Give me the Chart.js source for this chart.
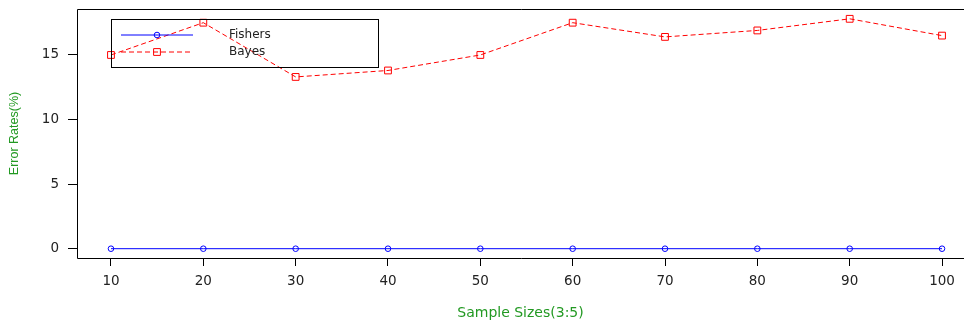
<!DOCTYPE html>
<html>
<head>
<meta charset="utf-8">
<script src="https://cdn.jsdelivr.net/npm/chart.js@4/dist/chart.umd.min.js"></script>
<style>
  html, body { margin: 0; padding: 0; overflow: hidden; background: #fff; }
  #wrap { position: relative; width: 964px; height: 324px; }
</style>
</head>
<body>
<div id="wrap"><canvas id="c"></canvas></div>
<script>
(function () {

    'use strict';

    // data
    var sampleSizes = [10, 20, 30, 40, 50, 60, 70, 80, 90, 100];
    var fishersErr  = [0, 0, 0, 0, 0, 0, 0, 0, 0, 0];
    var bayesErr    = [15.0, 17.5, 13.3, 13.8, 15.0, 17.5, 16.4, 16.9, 17.8, 16.5];
    var xTicks = [10, 20, 30, 40, 50, 60, 70, 80, 90, 100];
    var yTicks = [0, 5, 10, 15];

    var green = '#229922';
    var tickFont = { family: 'DejaVu Sans', size: 13.5 };

    function points(ys) {
        return sampleSizes.map(function (x, i) { return { x: x, y: ys[i] }; });
    }

    //no extra room for tick labels, the plot region is fixed
    function noPad(scale) {
        scale.paddingLeft = 0;
        scale.paddingRight = 0;
        scale.paddingTop = 0;
        scale.paddingBottom = 0;
    }

    //R style box round the plot region (right side is cut off in the original)
    var boxPlugin = {
        id: 'box',
        beforeDatasetsDraw: function (chart) {
            var a = chart.chartArea, ctx = chart.ctx;
            ctx.save();
            ctx.strokeStyle = '#000';
            ctx.lineWidth = 1;
            ctx.beginPath();
            ctx.moveTo(a.right + 1, a.top + 0.5);
            ctx.lineTo(a.left + 0.5, a.top + 0.5);
            ctx.lineTo(a.left + 0.5, a.bottom + 0.5);
            ctx.lineTo(a.right + 1, a.bottom + 0.5);
            ctx.stroke();
            ctx.restore();
        }
    };

    //legend box drawn from the datasets
    var legendPlugin = {
        id: 'rlegend',
        afterDraw: function (chart) {
            var ctx = chart.ctx;
            var a = chart.chartArea;
            var bx = a.left + 34, by = a.top + 10, bw = 267, bh = 48;
            ctx.save();
            ctx.strokeStyle = '#000';
            ctx.lineWidth = 1;
            ctx.strokeRect(bx + 0.5, by + 0.5, bw, bh);
            ctx.font = '12px "DejaVu Sans"';
            ctx.textBaseline = 'middle';
            chart.data.datasets.forEach(function (ds, i) {
                var y = by + 16 + i * 17;
                ctx.strokeStyle = ds.borderColor;
                ctx.setLineDash(ds.borderDash || []);
                ctx.beginPath();
                ctx.moveTo(bx + 10, y);
                ctx.lineTo(bx + 82, y);
                ctx.stroke();
                ctx.setLineDash([]);
                ctx.fillStyle = 'rgba(0,0,0,0)';
                Chart.helpers.drawPoint(ctx, {
                    pointStyle: ds.pointStyle,
                    radius: ds.pointRadius,
                    borderWidth: 1,
                    rotation: 0
                }, bx + 46, y);
                ctx.fillStyle = '#222';
                ctx.fillText(ds.label, bx + 118, y);
            });
            ctx.restore();
        }
    };

    new Chart(document.getElementById('c'), {
        type: 'line',
        data: {
            datasets: [{
                label: 'Fishers',
                data: points(fishersErr),
                borderColor: '#0000ff',
                backgroundColor: 'rgba(0,0,0,0)',
                borderWidth: 1,
                pointStyle: 'circle',
                pointRadius: 2.8,
                pointBorderWidth: 1,
                pointBorderColor: '#0000ff',
                pointBackgroundColor: 'rgba(0,0,0,0)',
                tension: 0
            }, {
                label: 'Bayes',
                data: points(bayesErr),
                borderColor: '#ff0000',
                backgroundColor: 'rgba(0,0,0,0)',
                borderWidth: 1,
                borderDash: [5, 3],
                pointStyle: 'rect',
                pointRadius: 4.8,
                pointBorderWidth: 1,
                pointBorderColor: '#ff0000',
                pointBackgroundColor: 'rgba(0,0,0,0)',
                tension: 0
            }]
        },
        options: {
            responsive: true,
            maintainAspectRatio: false,
            animation: false,
            layout: { autoPadding: false, padding: { top: 9, left: 0, right: 0, bottom: 0 } },
            plugins: {
                legend: { display: false },
                tooltip: { enabled: false }
            },
            scales: {
                x: {
                    type: 'linear',
                    min: 6.32,
                    max: 102.38,
                    afterBuildTicks: function (scale) {
                        scale.ticks = xTicks.map(function (v) { return { value: v }; });
                    },
                    afterFit: function (scale) { scale.height = 66; noPad(scale); },
                    grid: { drawOnChartArea: false, tickLength: 8, tickColor: '#000' },
                    border: { display: false },
                    ticks: { color: '#222', font: tickFont, padding: 7, maxRotation: 0 },
                    title: {
                        display: true,
                        text: 'Sample Sizes(3:5)',
                        color: green,
                        font: { family: 'DejaVu Sans', size: 14 },
                        padding: { top: 0, bottom: 2 }
                    }
                },
                y: {
                    min: -0.72,
                    max: 18.56,
                    afterBuildTicks: function (scale) {
                        scale.ticks = yTicks.map(function (v) { return { value: v }; });
                    },
                    afterFit: function (scale) { scale.width = 77; noPad(scale); },
                    grid: { drawOnChartArea: false, tickLength: 9, tickColor: '#000' },
                    border: { display: false },
                    ticks: { color: '#222', font: tickFont, padding: 9 },
                    title: {
                        display: true,
                        text: 'Error Rates(%)',
                        color: green,
                        font: { family: 'Liberation Sans', size: 12.5 },
                        padding: { top: 7, bottom: 0 }
                    }
                }
            }
        },
        plugins: [boxPlugin, legendPlugin]
    });
}());
</script>
</body>
</html>
